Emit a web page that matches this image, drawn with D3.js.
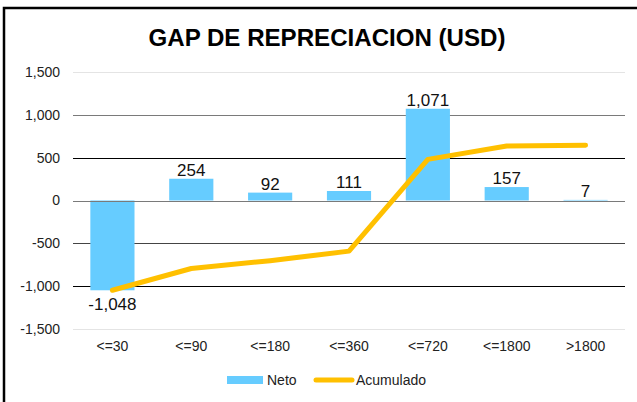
<!DOCTYPE html>
<html>
<head>
<meta charset="utf-8">
<script src="https://cdn.jsdelivr.net/npm/d3@7"></script>
<style>
  body { margin: 0; background: #fff; }
  text { font-family: "Liberation Sans", Arial, sans-serif; }
</style>
</head>
<body>
<svg id="chart" width="637" height="402"></svg>
<script>
const categories = ['<=30', '<=90', '<=180', '<=360', '<=720', '<=1800', '>1800'];
const neto = [-1048, 254, 92, 111, 1071, 157, 7];
const acumulado = [-1048, -794, -702, -591, 480, 637, 644];
const yTicks = [-1500, -1000, -500, 0, 500, 1000, 1500];
const gridColors = {'-1500': '#e4e4e4', '-1000': '#000', '-500': '#444', '0': '#7a7a7a', '500': '#000', '1000': '#7a7a7a', '1500': '#e4e4e4'};

const width = 637, height = 402;
const margin = {top: 72, right: 12, bottom: 73, left: 73};

const svg = d3.select('#chart');
const fmt = d3.formatLocale({decimal: '.', thousands: ',', grouping: [3], currency: ['$', ''], minus: '-'}).format(',');

// frame
svg.append('rect')
  .attr('x', 4).attr('y', 8)
  .attr('width', width + 10).attr('height', height + 10)
  .attr('fill', 'none').attr('stroke', '#000').attr('stroke-width', 2.5);

svg.append('text')
  .attr('x', 327).attr('y', 46)
  .attr('text-anchor', 'middle')
  .attr('font-size', 23).attr('font-weight', 'bold')
  .attr('textLength', 357).attr('lengthAdjust', 'spacingAndGlyphs')
  .text('GAP DE REPRECIACION (USD)');

const x = d3.scaleBand()
  .domain(categories)
  .range([margin.left, width - margin.right])
  .paddingInner(0.44).paddingOuter(0.22);

const y = d3.scaleLinear()
  .domain([-1500, 1500])
  .range([height - margin.bottom, margin.top]);

// gridlines
svg.append('g')
  .selectAll('line')
  .data(yTicks)
  .join('line')
  .attr('x1', margin.left).attr('x2', width - margin.right)
  .attr('y1', d => Math.round(y(d)) + 0.5).attr('y2', d => Math.round(y(d)) + 0.5)
  .attr('stroke', d => gridColors[d]).attr('stroke-width', 1);

// y axis
svg.append('g')
  .attr('transform', `translate(${margin.left - 13},0)`)
  .call(d3.axisLeft(y).tickValues(yTicks).tickFormat(fmt).tickSize(0).tickPadding(0))
  .call(g => g.select('.domain').remove())
  .call(g => g.selectAll('text')
    .attr('font-size', 14).attr('fill', '#222')
    .attr('font-family', '"Liberation Sans", Arial, sans-serif'));

// x axis labels
svg.append('g')
  .attr('transform', `translate(0,${height - margin.bottom + 6})`)
  .call(d3.axisBottom(x).tickSize(0).tickPadding(6))
  .call(g => g.select('.domain').remove())
  .call(g => g.selectAll('text')
    .attr('font-size', 14).attr('fill', '#222')
    .attr('font-family', '"Liberation Sans", Arial, sans-serif'));

const data = categories.map((c, i) => ({c, v: neto[i], a: acumulado[i]}));

// bars
svg.append('g')
  .selectAll('rect')
  .data(data)
  .join('rect')
  .attr('x', d => x(d.c))
  .attr('width', x.bandwidth())
  .attr('y', d => y(Math.max(0, d.v)))
  .attr('height', d => Math.abs(y(d.v) - y(0)))
  .attr('fill', '#66CCFF');

// zero line on top of bars
svg.append('line')
  .attr('x1', margin.left).attr('x2', width - margin.right)
  .attr('y1', Math.round(y(0)) + 0.5).attr('y2', Math.round(y(0)) + 0.5)
  .attr('stroke', '#7a7a7a');

// cumulative line
const line = d3.line()
  .x(d => x(d.c) + x.bandwidth() / 2)
  .y(d => y(d.a));

svg.append('path')
  .datum(data)
  .attr('d', line)
  .attr('fill', 'none')
  .attr('stroke', '#FFC000')
  .attr('stroke-width', 5)
  .attr('stroke-linecap', 'round')
  .attr('stroke-linejoin', 'round');

// value labels
svg.append('g')
  .selectAll('text')
  .data(data)
  .join('text')
  .attr('x', d => x(d.c) + x.bandwidth() / 2)
  .attr('y', d => d.v < 0 ? y(d.v) + 20 : y(Math.max(d.v, 0)) - 3)
  .attr('text-anchor', 'middle')
  .attr('font-size', 17).attr('fill', '#111')
  .text(d => fmt(d.v));

// legend
const lg = svg.append('g').attr('transform', 'translate(0,380)');
lg.append('rect').attr('x', 227).attr('y', -4).attr('width', 36).attr('height', 8).attr('fill', '#66CCFF');
lg.append('text').attr('x', 267).attr('y', 5).attr('font-size', 14).attr('fill', '#222').text('Neto');
lg.append('line').attr('x1', 316).attr('x2', 352).attr('y1', 0).attr('y2', 0)
  .attr('stroke', '#FFC000').attr('stroke-width', 5).attr('stroke-linecap', 'round');
lg.append('text').attr('x', 356).attr('y', 5).attr('font-size', 14).attr('fill', '#222').text('Acumulado');
</script>
</body>
</html>
